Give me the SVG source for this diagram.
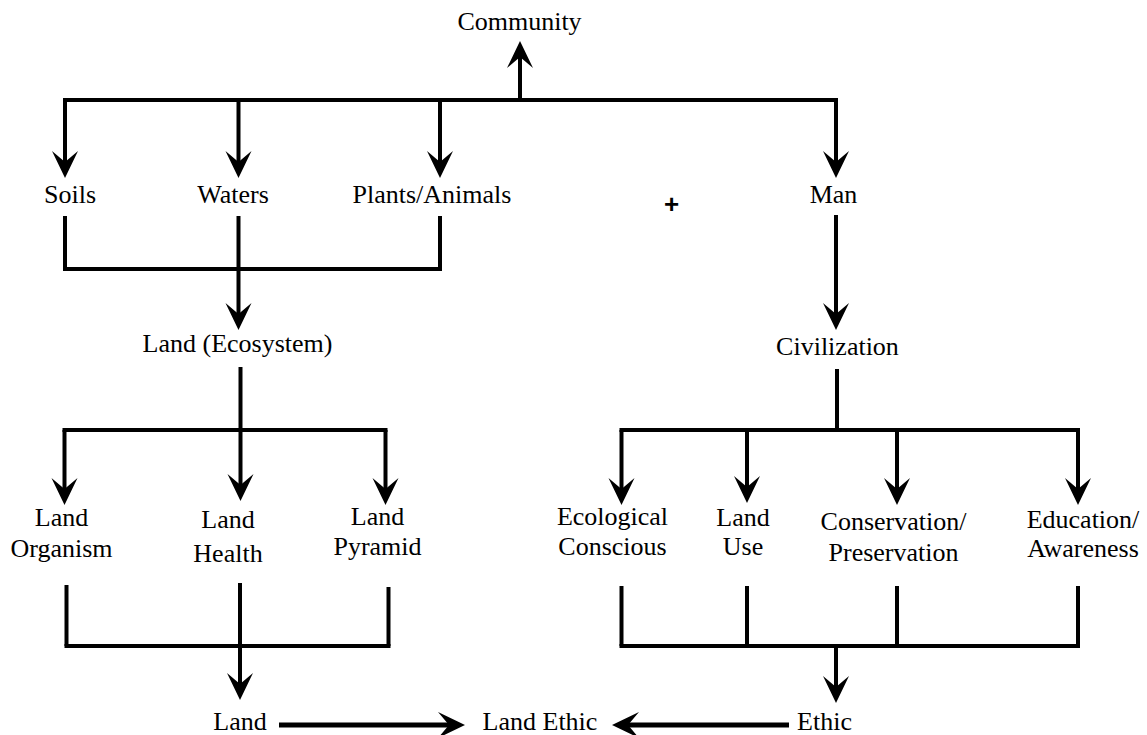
<svg xmlns="http://www.w3.org/2000/svg" width="1147" height="735" viewBox="0 0 1147 735">
<style>
.t{font-family:"Liberation Serif","Times New Roman",serif;font-size:26px;text-anchor:middle;fill:#000}
.p{font-family:"Liberation Sans",Arial,sans-serif;font-size:26px;font-weight:bold;text-anchor:middle;fill:#000}
.l{fill:none;stroke:#000;stroke-width:4;stroke-linecap:butt}
.s{fill:none;stroke:#000;stroke-width:4;stroke-linecap:square}
.a{fill:none;stroke:#000;stroke-width:4;marker-end:url(#ah)}
.h{fill:none;stroke:#000;stroke-width:5;marker-end:url(#ah)}
</style>
<defs>
<marker id="ah" markerUnits="userSpaceOnUse" viewBox="-28 -14 29 28" markerWidth="29" markerHeight="28" refX="-14" refY="0" orient="auto">
<path d="M0,0 L-27,-13 L-16,0 L-27,13 Z" fill="#000"/>
</marker>
</defs>
<rect width="1147" height="735" fill="#fff"/>
<g id="connectors">
<path class="a" d="M520,100 V55"/>
<path class="s" d="M65,100 H836"/>
<path class="a" d="M65,100 V164"/>
<path class="a" d="M238.5,100 V164"/>
<path class="a" d="M440,100 V164"/>
<path class="a" d="M836,100 V164"/>
<path class="l" d="M65,216 V269"/>
<path class="l" d="M440,216 V269"/>
<path class="s" d="M65,269 H440"/>
<path class="a" d="M238.5,216 V316"/>
<path class="a" d="M836,215 V316"/>
<path class="l" d="M240.5,367 V430"/>
<path class="s" d="M64.5,430 H385.5"/>
<path class="a" d="M64.5,430 V491"/>
<path class="a" d="M240.5,430 V487"/>
<path class="a" d="M385.5,430 V491"/>
<path class="l" d="M837,369 V430"/>
<path class="s" d="M621.5,430 H1078"/>
<path class="a" d="M621.5,430 V491"/>
<path class="a" d="M747,430 V489"/>
<path class="a" d="M897,430 V491"/>
<path class="a" d="M1078,430 V491"/>
<path class="l" d="M66.5,585 V646"/>
<path class="l" d="M388.5,587 V646"/>
<path class="s" d="M66.5,646 H388.5"/>
<path class="a" d="M240,583 V686"/>
<path class="l" d="M621.5,586 V646"/>
<path class="l" d="M747,586 V646"/>
<path class="l" d="M897,586 V646"/>
<path class="l" d="M1078,586 V646"/>
<path class="s" d="M621.5,646 H1078"/>
<path class="a" d="M836,646 V689"/>
<path class="h" d="M279,725 H451"/>
<path class="h" d="M789,725 H626"/>
</g>
<g id="community"><text class="t" x="519.5" y="30">Community</text></g>
<g id="soils"><text class="t" x="70" y="203">Soils</text></g>
<g id="waters"><text class="t" x="233" y="203">Waters</text></g>
<g id="plants-animals"><text class="t" x="432" y="203">Plants/Animals</text></g>
<g id="plus"><text class="p" x="671.5" y="213">+</text></g>
<g id="man"><text class="t" x="833.5" y="203">Man</text></g>
<g id="land-ecosystem"><text class="t" x="237.5" y="352">Land (Ecosystem)</text></g>
<g id="civilization"><text class="t" x="837.5" y="355">Civilization</text></g>
<g id="land-organism"><text class="t" x="61.5" y="526">Land</text><text class="t" x="61.5" y="557">Organism</text></g>
<g id="land-health"><text class="t" x="228" y="528">Land</text><text class="t" x="228" y="562">Health</text></g>
<g id="land-pyramid"><text class="t" x="377.5" y="525">Land</text><text class="t" x="377.5" y="555">Pyramid</text></g>
<g id="ecological-conscious"><text class="t" x="612.5" y="525">Ecological</text><text class="t" x="612.5" y="555">Conscious</text></g>
<g id="land-use"><text class="t" x="743" y="526">Land</text><text class="t" x="743" y="555">Use</text></g>
<g id="conservation-preservation"><text class="t" x="893.5" y="530">Conservation/</text><text class="t" x="893.5" y="561">Preservation</text></g>
<g id="education-awareness"><text class="t" x="1083" y="528">Education/</text><text class="t" x="1083" y="557">Awareness</text></g>
<g id="land"><text class="t" x="240" y="730">Land</text></g>
<g id="land-ethic"><text class="t" x="540" y="730">Land Ethic</text></g>
<g id="ethic"><text class="t" x="824.5" y="730">Ethic</text></g>
</svg>
